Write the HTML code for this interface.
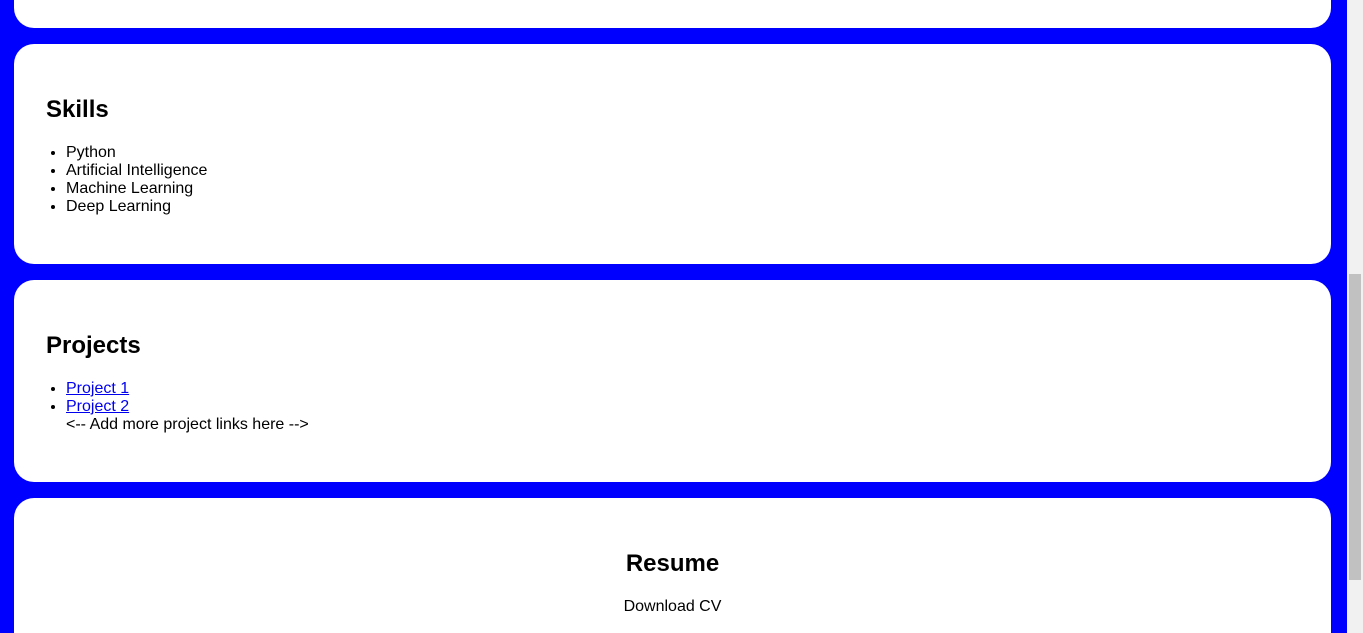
<!DOCTYPE html>
<html><head><meta charset="utf-8"><style>
html,body{margin:0;padding:0;width:1363px;height:633px;overflow:hidden;background:#0000ff;font-family:"Liberation Sans",Arial,sans-serif;color:#000;position:relative}
.card{position:absolute;left:14px;width:1317px;background:#fff;border-radius:20px}
.h{position:absolute;font-size:24px;font-weight:bold;line-height:28px;margin:0}
ul{position:absolute;margin:0;padding:0 0 0 20px;font-size:16px;line-height:18px}
a{color:#0000ee}
.t{position:absolute;font-size:16px;line-height:18px}
#track{position:absolute;left:1347px;top:0;width:16px;height:633px;background:#f1f1f1}
#thumb{position:absolute;left:1349px;top:274px;width:12px;height:306px;background:#c1c1c1}
</style></head><body>
<div class="card" style="top:0;height:28px;border-radius:0 0 20px 20px"></div>
<div class="card" style="top:44px;height:220px">
  <h2 class="h" style="left:32px;top:52px">Skills</h2>
  <ul style="left:32px;top:100px">
    <li>Python</li>
    <li>Artificial Intelligence</li>
    <li>Machine Learning</li>
    <li>Deep Learning</li>
  </ul>
</div>
<div class="card" style="top:280px;height:202px">
  <h2 class="h" style="left:32px;top:52px">Projects</h2>
  <ul style="left:32px;top:100px">
    <li><a href="#">Project 1</a></li>
    <li><a href="#">Project 2</a></li>
    <span>&lt;-- Add more project links here --&gt;</span>
  </ul>
</div>
<div class="card" style="top:498px;height:135px;border-radius:20px 20px 0 0">
  <h2 class="h" style="left:0;width:1317px;text-align:center;top:52px">Resume</h2>
  <div class="t" style="left:0;width:1317px;text-align:center;top:100px">Download CV</div>
</div>
<div id="track"></div>
<div id="thumb"></div>
</body></html>
